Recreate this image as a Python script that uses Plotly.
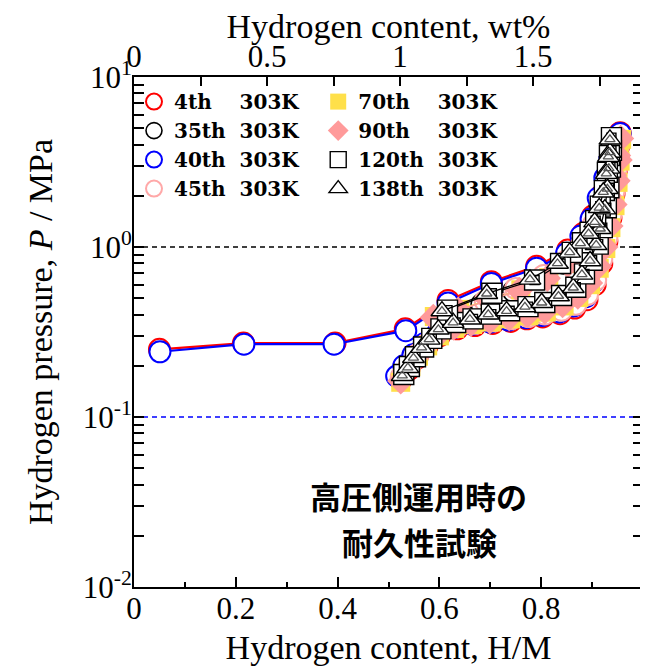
import plotly.graph_objects as go

# ---------------- data ----------------
HM_RANGE = [0.0, 1.0]
WT_AT_HM1 = 1.913          # wt% corresponding to H/M = 1 (top axis)
P_RANGE_LOG = [-2, 1]
REF_P_BLACK = 1.0
REF_P_BLUE = 0.1

series_names = ["4th", "35th", "40th", "45th", "70th", "90th", "120th", "138th"]
series_temp = "303K"

HM_4th = [0.524, 0.540, 0.556, 0.576, 0.600, 0.635, 0.670, 0.705, 0.740, 0.772, 0.803, 0.837, 0.866, 0.890,
          0.906, 0.919, 0.929, 0.937, 0.943, 0.948, 0.952,
          0.955, 0.942, 0.932, 0.917, 0.901, 0.882, 0.852, 0.791, 0.702, 0.617, 0.533, 0.395, 0.215, 0.050]
P_4th = [0.165, 0.190, 0.222, 0.262, 0.300, 0.330, 0.345, 0.355, 0.365, 0.378, 0.388, 0.405, 0.437, 0.490,
         0.600, 0.800, 1.080, 1.480, 2.050, 2.850, 3.900,
         4.700, 3.450, 2.650, 2.000, 1.520, 1.200, 0.960, 0.770, 0.625, 0.485, 0.330, 0.272, 0.272, 0.250]

HM_35th = [0.527, 0.543, 0.558, 0.578, 0.603, 0.638, 0.673, 0.708, 0.743, 0.776, 0.808, 0.840, 0.868, 0.890,
           0.905, 0.917, 0.927, 0.935, 0.941, 0.946, 0.950,
           0.940, 0.929, 0.915, 0.898, 0.876, 0.845, 0.800, 0.745, 0.683, 0.620]
P_35th = [0.180, 0.205, 0.238, 0.275, 0.315, 0.345, 0.360, 0.372, 0.382, 0.395, 0.410, 0.432, 0.470, 0.540,
          0.660, 0.870, 1.150, 1.560, 2.150, 2.950, 4.000,
          3.100, 2.350, 1.750, 1.300, 1.000, 0.800, 0.660, 0.550, 0.460, 0.400]

HM_40th = [0.516, 0.530, 0.548, 0.570, 0.596, 0.630, 0.665, 0.700, 0.736, 0.770, 0.802, 0.836, 0.864, 0.888,
           0.904, 0.917, 0.927, 0.935, 0.941, 0.946, 0.950,
           0.955, 0.935, 0.925, 0.912, 0.898, 0.878, 0.850, 0.791, 0.702, 0.617, 0.534, 0.393, 0.216, 0.051]
P_40th = [0.174, 0.200, 0.232, 0.270, 0.310, 0.338, 0.352, 0.362, 0.372, 0.384, 0.396, 0.415, 0.450, 0.510,
          0.630, 0.840, 1.120, 1.520, 2.100, 2.900, 3.900,
          4.650, 3.300, 2.550, 1.940, 1.460, 1.160, 0.920, 0.750, 0.610, 0.469, 0.322, 0.268, 0.268, 0.242]

HM_45th = [0.525, 0.541, 0.556, 0.576, 0.601, 0.636, 0.671, 0.706, 0.741, 0.775, 0.807, 0.840, 0.868, 0.891,
           0.907, 0.919, 0.929, 0.937, 0.943, 0.948, 0.952,
           0.943, 0.932, 0.918, 0.902, 0.880, 0.850, 0.805, 0.750, 0.690, 0.625]
P_45th = [0.172, 0.200, 0.232, 0.270, 0.310, 0.340, 0.356, 0.368, 0.378, 0.390, 0.404, 0.425, 0.460, 0.525,
          0.640, 0.850, 1.130, 1.540, 2.120, 2.900, 3.950,
          3.150, 2.400, 1.800, 1.350, 1.040, 0.830, 0.680, 0.570, 0.480, 0.415]

HM_70th = [0.524, 0.544, 0.559, 0.577, 0.600, 0.630, 0.665, 0.702, 0.740, 0.776, 0.810, 0.845, 0.874, 0.897,
           0.914, 0.927, 0.937, 0.945, 0.951, 0.955, 0.958,
           0.953, 0.945, 0.935, 0.922, 0.905, 0.884, 0.856, 0.815, 0.760, 0.700, 0.640, 0.590]
P_70th = [0.160, 0.198, 0.228, 0.262, 0.300, 0.332, 0.350, 0.362, 0.378, 0.394, 0.414, 0.450, 0.505, 0.600,
          0.750, 0.980, 1.300, 1.750, 2.400, 3.200, 4.300,
          3.500, 2.700, 2.050, 1.560, 1.220, 0.980, 0.800, 0.660, 0.560, 0.490, 0.430, 0.390]

HM_90th = [0.524, 0.543, 0.558, 0.576, 0.598, 0.628, 0.662, 0.699, 0.737, 0.773, 0.807, 0.842, 0.872, 0.895,
           0.912, 0.925, 0.935, 0.943, 0.949, 0.953, 0.956,
           0.950, 0.942, 0.932, 0.919, 0.902, 0.880, 0.852, 0.812, 0.757, 0.697, 0.637, 0.588]
P_90th = [0.163, 0.202, 0.232, 0.266, 0.305, 0.338, 0.356, 0.368, 0.384, 0.400, 0.420, 0.458, 0.515, 0.615,
          0.770, 1.000, 1.330, 1.780, 2.450, 3.250, 4.350,
          3.450, 2.650, 2.000, 1.520, 1.190, 0.960, 0.790, 0.655, 0.555, 0.485, 0.425, 0.385]

HM_120th = [0.530, 0.541, 0.553, 0.569, 0.585, 0.603, 0.632, 0.666, 0.702, 0.738, 0.774, 0.807, 0.840, 0.868,
            0.885, 0.900, 0.912, 0.920, 0.928, 0.933, 0.936, 0.938,
            0.938, 0.934, 0.930, 0.924, 0.916, 0.907, 0.896, 0.881, 0.861, 0.838, 0.787, 0.703, 0.616]
P_120th = [0.178, 0.198, 0.226, 0.258, 0.290, 0.330, 0.360, 0.378, 0.403, 0.422, 0.446, 0.472, 0.518, 0.580,
           0.695, 0.835, 1.040, 1.300, 1.700, 2.230, 2.950, 3.700,
           4.400, 3.450, 2.750, 2.150, 1.740, 1.430, 1.220, 1.060, 0.930, 0.800, 0.640, 0.535, 0.425]

HM_138th = [0.527, 0.538, 0.549, 0.565, 0.580, 0.598, 0.627, 0.660, 0.696, 0.732, 0.768, 0.801, 0.834, 0.863,
            0.880, 0.896, 0.908, 0.916, 0.925, 0.930, 0.933, 0.935,
            0.935, 0.932, 0.928, 0.922, 0.914, 0.905, 0.893, 0.877, 0.856, 0.832, 0.778, 0.693, 0.605]
P_138th = [0.175, 0.195, 0.223, 0.256, 0.286, 0.328, 0.359, 0.376, 0.402, 0.420, 0.444, 0.470, 0.515, 0.576,
           0.690, 0.828, 1.030, 1.280, 1.670, 2.200, 2.900, 3.600,
           4.300, 3.400, 2.700, 2.100, 1.700, 1.400, 1.200, 1.050, 0.930, 0.800, 0.645, 0.531, 0.420]

x_ticks = [0, 0.2, 0.4, 0.6, 0.8, 1.0]
x_tick_labels = ["0", "0.2", "0.4", "0.6", "0.8", "1"]
wt_ticks = [0, 0.5, 1.0, 1.5]
wt_tick_labels = ["0", "0.5", "1", "1.5"]
y_ticks = [0.01, 0.1, 1, 10]
y_tick_labels = ["10<sup>-2</sup>", "10<sup>-1</sup>", "10<sup>0</sup>", "10<sup>1</sup>"]

note_line1 = "高圧側運用時の"
note_line2 = "耐久性試験"

# ---------------- styling ----------------
NB = "\u00a0"
legend_text = {
    "4th": "4th" + NB * 4 + series_temp,
    "35th": "35th" + NB * 2 + series_temp,
    "40th": "40th" + NB * 2 + series_temp,
    "45th": "45th" + NB * 2 + series_temp,
    "70th": "70th" + NB * 4 + series_temp,
    "90th": "90th" + NB * 4 + series_temp,
    "120th": "120th" + NB * 2 + series_temp,
    "138th": "138th" + NB * 2 + series_temp,
}
legend_rank = {"4th": 1, "70th": 2, "35th": 3, "90th": 4, "40th": 5, "120th": 6, "45th": 7, "138th": 8}

data = {
    "4th": (HM_4th, P_4th), "35th": (HM_35th, P_35th), "40th": (HM_40th, P_40th), "45th": (HM_45th, P_45th),
    "70th": (HM_70th, P_70th), "90th": (HM_90th, P_90th), "120th": (HM_120th, P_120th), "138th": (HM_138th, P_138th),
}

style = {
    "4th": dict(line="#ff0000", lw=2.2, marker=dict(symbol="circle", size=21, color="white",
                                                    line=dict(color="#ff0000", width=2))),
    "35th": dict(line="#000000", lw=1.5, marker=dict(symbol="circle", size=21, color="white",
                                                     line=dict(color="#000000", width=1.6))),
    "40th": dict(line="#0000ff", lw=2.2, marker=dict(symbol="circle", size=21, color="white",
                                                     line=dict(color="#0000ff", width=2))),
    "45th": dict(line="#ffa8a8", lw=1.5, marker=dict(symbol="circle", size=21, color="white",
                                                     line=dict(color="#ffa8a8", width=2))),
    "70th": dict(line="#ffe04a", lw=1.5, marker=dict(symbol="square", size=19, color="#ffe04a",
                                                     line=dict(width=0))),
    "90th": dict(line="#ff9a9a", lw=1.5, marker=dict(symbol="diamond", size=21, color="#ff9a9a",
                                                     line=dict(width=0))),
    "120th": dict(line="#000000", lw=1.3, marker=dict(symbol="square", size=20, color="white",
                                                      line=dict(color="#000000", width=1.4))),
    "138th": dict(line="#000000", lw=1.3, marker=dict(symbol="triangle-up", size=19, color="white",
                                                      line=dict(color="#000000", width=1.4))),
}
inner = {
    "120th": dict(symbol="square-open", size=9, color="#000000", line=dict(color="#000000", width=1.4)),
    "138th": dict(symbol="triangle-up-open", size=9, color="#555555", line=dict(color="#555555", width=1.3)),
}

fig = go.Figure()
for name in series_names:
    xs, ps = data[name]
    st = style[name]
    fig.add_trace(go.Scatter(x=xs, y=ps, mode="lines", line=dict(color=st["line"], width=st["lw"]),
                             showlegend=False, hoverinfo="skip"))
    fig.add_trace(go.Scatter(x=xs, y=ps, mode="markers", marker=st["marker"], name=legend_text[name],
                             legendrank=legend_rank[name]))
    if name in inner:
        fig.add_trace(go.Scatter(x=xs, y=ps, mode="markers", marker=inner[name], showlegend=False,
                                 hoverinfo="skip"))

# empty trace to activate top (wt%) axis
fig.add_trace(go.Scatter(x=[], y=[], xaxis="x2", yaxis="y", showlegend=False))

serif = "Liberation Serif"
tick_font = dict(family=serif, size=31, color="black")
title_font = dict(family=serif, size=34, color="black")

minor_y = [m * 10.0 ** e for e in (-2, -1, 0) for m in range(2, 10)]

# the page body adds an 8px margin, so the figure is 8px smaller on each axis
fig.update_layout(
    width=640, height=658,
    margin=dict(l=126, r=5, t=69, b=79, autoexpand=False),
    paper_bgcolor="white", plot_bgcolor="white",
    showlegend=True,
    legend=dict(orientation="h", x=0.0, y=0.99, xanchor="left", yanchor="top",
                font=dict(family="DejaVu Serif", size=20, color="black", weight="bold"),
                bgcolor="rgba(0,0,0,0)", borderwidth=0, itemclick=False),
    xaxis=dict(range=HM_RANGE, tickmode="array", tickvals=x_ticks, ticktext=x_tick_labels,
               ticks="inside", ticklen=10, tickwidth=1.5, tickcolor="black", automargin=False,
               ticklabelstandoff=-7,
               minor=dict(dtick=0.1, tick0=0, ticks="inside", ticklen=5, tickwidth=1.5, tickcolor="black"),
               showline=True, linewidth=2, linecolor="black", mirror=False, showgrid=False, zeroline=False,
               tickfont=tick_font,
               title=dict(text="Hydrogen content, H/M", font=title_font, standoff=11)),
    xaxis2=dict(range=[HM_RANGE[0] * WT_AT_HM1, HM_RANGE[1] * WT_AT_HM1], overlaying="x", side="top",
                anchor="y", tickmode="array", tickvals=wt_ticks, ticktext=wt_tick_labels, automargin=False,
                ticks="inside", ticklen=9, tickwidth=1.5, tickcolor="black", ticklabelstandoff=-4,
                minor=dict(dtick=0.25, tick0=0, ticks="inside", ticklen=9, tickwidth=1.5, tickcolor="black"),
                showline=True, linewidth=2, linecolor="black", showgrid=False, zeroline=False,
                tickfont=tick_font,
                title=dict(text="Hydrogen content, wt%", font=title_font, standoff=2)),
    yaxis=dict(type="log", range=P_RANGE_LOG, tickmode="array", tickvals=y_ticks, ticktext=y_tick_labels,
               ticks="inside", ticklen=10, tickwidth=1.5, tickcolor="black", automargin=False,
               ticklabelstandoff=-6,
               minor=dict(tickmode="array", tickvals=minor_y, ticks="inside", ticklen=5, tickwidth=1.5,
                          tickcolor="black"),
               showline=True, linewidth=2, linecolor="black", mirror="allticks", showgrid=False,
               zeroline=False, tickfont=tick_font,
               title=dict(text="Hydrogen pressure, <i>P</i> / MPa", font=title_font, standoff=20)),
    shapes=[
        dict(type="line", xref="paper", x0=0, x1=1, yref="y", y0=REF_P_BLACK, y1=REF_P_BLACK,
             line=dict(color="black", width=1.5, dash="5px,4px"), layer="below"),
        dict(type="line", xref="paper", x0=0, x1=1, yref="y", y0=REF_P_BLUE, y1=REF_P_BLUE,
             line=dict(color="#0000ff", width=1.5, dash="5px,4px"), layer="below"),
    ],
    annotations=[
        dict(text=note_line1, xref="paper", yref="paper", x=0.558, y=0.18, xanchor="center",
             yanchor="middle", showarrow=False,
             font=dict(family="Noto Sans CJK JP", size=31, color="black", weight="bold")),
        dict(text=note_line2, xref="paper", yref="paper", x=0.56, y=0.09, xanchor="center",
             yanchor="middle", showarrow=False,
             font=dict(family="Noto Sans CJK JP", size=31, color="black", weight="bold")),
    ],
)

fig.write_html("out.html")
